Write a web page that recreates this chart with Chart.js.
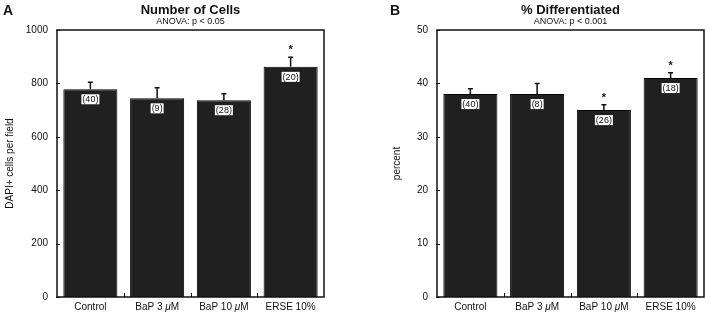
<!DOCTYPE html>
<html>
<head>
<meta charset="utf-8">
<script src="https://cdn.jsdelivr.net/npm/chart.js@4/dist/chart.umd.min.js"></script>
<style>
  body { margin: 0; background: #fff; }
  .panel { position: absolute; top: 0; height: 316px; }
</style>
</head>
<body>
<div class="panel" style="left:0;width:355px"><canvas id="cellsChart" width="355" height="316"></canvas></div>
<div class="panel" style="left:355px;width:354px"><canvas id="diffChart" width="354" height="316"></canvas></div>
<script>
// data
const groups = ['Control', 'BaP 3 μM', 'BaP 10 μM', 'ERSE 10%'];

const cellCounts = [778, 744, 737, 862];
const cellErrors = [26, 40, 24, 36];
const cellN = [40, 9, 28, 20];
const cellStars = [false, false, false, true];
const cellTicks = [0, 200, 400, 600, 800, 1000];

const diffPercent = [38, 38, 35, 41];
const diffErrors = [1, 2, 1, 1];
const diffN = [40, 8, 26, 18];
const diffStars = [false, false, true, true];
const diffTicks = [0, 10, 20, 30, 40, 50];

const FONT = '"Liberation Sans", Arial, Helvetica, sans-serif';
Chart.defaults.font.family = FONT;
Chart.defaults.color = '#111';

// draws the frame, inward ticks, error bars, n labels, stars and titles
const figureBits = {
  id: 'figureBits',
  afterDatasetsDraw(chart, args, opts) {
    const ctx = chart.ctx;
    const area = chart.chartArea;
    const x = chart.scales.x, y = chart.scales.y;
    const meta = chart.getDatasetMeta(0);
    const values = chart.data.datasets[0].data;
    ctx.save();

    // error bars (upper only)
    ctx.strokeStyle = '#111';
    ctx.lineWidth = 1.5;
    meta.data.forEach((bar, i) => {
      const top = y.getPixelForValue(values[i] + opts.errors[i]);
      ctx.beginPath();
      ctx.moveTo(bar.x, bar.y);
      ctx.lineTo(bar.x, top);
      ctx.moveTo(bar.x - 2.5, top);
      ctx.lineTo(bar.x + 2.5, top);
      ctx.stroke();

      if (opts.stars[i]) {
        ctx.fillStyle = '#111';
        ctx.font = 'bold 11px ' + FONT;
        ctx.textAlign = 'center';
        ctx.textBaseline = 'middle';
        ctx.fillText('*', bar.x, top - 7);
      }

      // n label in white box
      const txt = '(' + opts.counts[i] + ')';
      ctx.font = '9px ' + FONT;
      const w = ctx.measureText(txt).width + 2;
      const cy = bar.y + 10;
      ctx.fillStyle = '#fff';
      ctx.fillRect(bar.x - w / 2, cy - 5, w, 10);
      ctx.fillStyle = '#111';
      ctx.textAlign = 'center';
      ctx.textBaseline = 'middle';
      ctx.fillText(txt, bar.x, cy + 0.5);
    });

    // frame
    ctx.lineWidth = 1.5;
    ctx.strokeStyle = '#111';
    ctx.strokeRect(area.left, area.top, area.right - area.left, area.bottom - area.top);

    // inward ticks on y
    ctx.lineWidth = 1;
    y.ticks.forEach(t => {
      const py = Math.round(y.getPixelForValue(t.value)) + 0.5;
      ctx.beginPath();
      ctx.moveTo(area.left - 1, py);
      ctx.lineTo(area.left + 3, py);
      ctx.stroke();
    });
    // ticks between categories
    for (let i = 0; i < groups.length - 1; i++) {
      const px = Math.round((x.getPixelForValue(i) + x.getPixelForValue(i + 1)) / 2) + 0.5;
      ctx.beginPath();
      ctx.moveTo(px, area.bottom);
      ctx.lineTo(px, area.bottom - 4);
      ctx.stroke();
    }

    // category labels, mu in italics
    ctx.fillStyle = '#111';
    ctx.textBaseline = 'middle';
    ctx.textAlign = 'left';
    groups.forEach((g, i) => {
      const parts = g.split('μ');
      const normal = '10px ' + FONT, ital = 'italic 10px ' + FONT;
      ctx.font = normal;
      let w = ctx.measureText(parts.join('')).width;
      if (parts.length > 1) { ctx.font = ital; w += ctx.measureText('μ').width; }
      let px = x.getPixelForValue(i) - w / 2;
      const py = area.bottom + 10;
      parts.forEach((p, k) => {
        ctx.font = normal;
        ctx.fillText(p, px, py);
        px += ctx.measureText(p).width;
        if (k < parts.length - 1) {
          ctx.font = ital;
          ctx.fillText('μ', px, py);
          px += ctx.measureText('μ').width;
        }
      });
    });

    // titles
    const cx = (area.left + area.right) / 2;
    ctx.textAlign = 'center';
    ctx.font = 'bold 13px ' + FONT;
    ctx.fillText(opts.title, cx, 10);
    ctx.font = '9px ' + FONT;
    ctx.fillText(opts.subtitle, cx, 22);
    ctx.font = 'bold 14px ' + FONT;
    ctx.fillText(opts.letter, opts.letterX, 11);

    // y title
    ctx.font = '10px ' + FONT;
    ctx.translate(opts.yTitleX, (area.top + area.bottom) / 2);
    ctx.rotate(-Math.PI / 2);
    ctx.fillText(opts.yTitle, 0, 0);
    ctx.restore();
  }
};

function makeChart(id, values, ticks, extras, yWidth, padRight) {
  return new Chart(document.getElementById(id), {
    type: 'bar',
    data: {
      labels: groups,
      datasets: [{
        data: values,
        backgroundColor: '#202020',
        borderColor: '#000',
        borderWidth: 1,
        barPercentage: 0.81,
        categoryPercentage: 1
      }]
    },
    options: {
      responsive: false,
      animation: false,
      layout: { padding: { top: 30, right: padRight, bottom: 0, left: 0 } },
      plugins: {
        legend: { display: false },
        tooltip: { enabled: false },
        figureBits: extras
      },
      scales: {
        x: {
          offset: true,
          grid: { display: false },
          border: { display: false },
          ticks: { display: false },
          afterFit: s => { s.height = 19; }
        },
        y: {
          min: ticks[0],
          max: ticks[ticks.length - 1],
          grid: { display: false, drawTicks: false },
          border: { display: false },
          ticks: { font: { size: 10 }, padding: 9, color: '#111', callback: v => String(v) },
          afterBuildTicks: s => { s.ticks = ticks.map(v => ({ value: v })); },
          afterFit: s => { s.width = yWidth; }
        }
      }
    },
    plugins: [figureBits]
  });
}

makeChart('cellsChart', cellCounts, cellTicks, {
  errors: cellErrors, counts: cellN, stars: cellStars,
  title: 'Number of Cells', subtitle: 'ANOVA: p < 0.05',
  letter: 'A', letterX: 8, yTitle: 'DAPI+ cells per field', yTitleX: 10
}, 57, 31);

makeChart('diffChart', diffPercent, diffTicks, {
  errors: diffErrors, counts: diffN, stars: diffStars,
  title: '% Differentiated', subtitle: 'ANOVA: p < 0.001',
  letter: 'B', letterX: 40, yTitle: 'percent', yTitleX: 42
}, 82, 5);
</script>
</body>
</html>
